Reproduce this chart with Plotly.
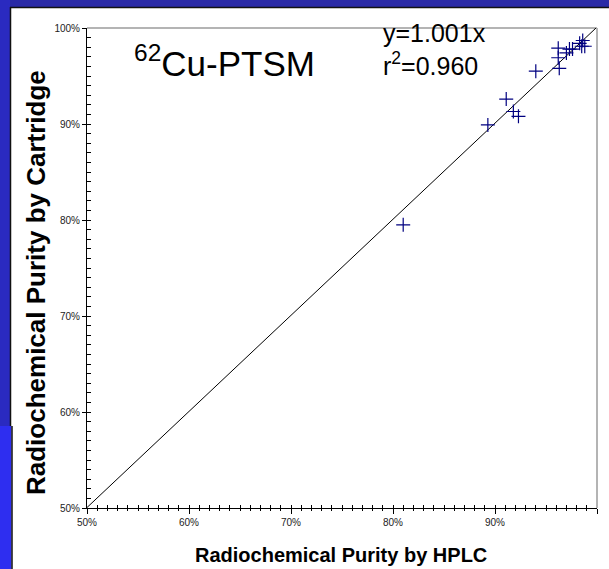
import plotly.graph_objects as go

# ---- data ----
hplc = [0.810, 0.893, 0.911, 0.918, 0.923, 0.940, 0.962, 0.962, 0.963, 0.970, 0.973, 0.976, 0.983, 0.986, 0.985, 0.988]
cartridge = [0.795, 0.899, 0.926, 0.913, 0.908, 0.955, 0.979, 0.969, 0.958, 0.974, 0.978, 0.978, 0.984, 0.987, 0.981, 0.981]
slope = 1.001
fit_x = [0.5, 1.0]
fit_y = [slope * v for v in fit_x]
x_tick_vals = [0.5, 0.6, 0.7, 0.8, 0.9, 1.0]
y_tick_vals = [0.5, 0.6, 0.7, 0.8, 0.9, 1.0]
minor_vals = [round(0.5 + i * 0.01, 2) for i in range(51)]

W, H = 609, 569
L, R, T, B = 87, 597, 28, 508


def px(x):
    return (x - L) / (R - L)


def py(y):
    return (B - y) / (B - T)


fig = go.Figure()
fig.add_trace(go.Scatter(x=fit_x, y=fit_y, mode="lines",
                         line=dict(color="black", width=1), showlegend=False, hoverinfo="skip"))
fig.add_trace(go.Scatter(x=hplc, y=cartridge, mode="markers",
                         marker=dict(symbol="cross-thin", size=10,
                                     line=dict(color="#000080", width=1.2), color="#000080"),
                         showlegend=False))
# invisible trace for the overlay axes (tick crossing)
fig.add_trace(go.Scatter(x=[0.5], y=[0.5], xaxis="x2", yaxis="y2", mode="markers",
                         marker=dict(opacity=0), showlegend=False, hoverinfo="skip"))

tickfont = dict(family="Liberation Sans, Arial", size=10, color="#222")
fig.update_layout(
    width=W, height=H,
    margin=dict(l=L, r=W - R, t=T, b=H - B),
    paper_bgcolor="white", plot_bgcolor="white",
    xaxis=dict(range=[0.5, 1.0], tickvals=x_tick_vals, tickformat=".0%",
               showgrid=False, zeroline=False, showline=True, linecolor="black", linewidth=1,
               ticks="outside", ticklen=5, tickcolor="black",
               minor=dict(tickvals=minor_vals, ticks="outside", ticklen=2, tickcolor="black"),
               tickfont=tickfont),
    yaxis=dict(range=[0.5, 1.0], tickvals=y_tick_vals, tickformat=".0%",
               showgrid=False, zeroline=False, showline=True, linecolor="black", linewidth=1,
               ticks="outside", ticklen=4, tickcolor="black",
               tickfont=tickfont),
    xaxis2=dict(range=[0.5, 1.0], overlaying="x", anchor="y2", side="bottom",
                showgrid=False, zeroline=False, showline=False, showticklabels=False,
                tickvals=x_tick_vals, ticks="inside", ticklen=3, tickcolor="black",
                minor=dict(tickvals=minor_vals, ticks="inside", ticklen=3, tickcolor="black")),
    yaxis2=dict(range=[0.5, 1.0], overlaying="y", anchor="x2", side="left",
                showgrid=False, zeroline=False, showline=False, showticklabels=False,
                tickvals=y_tick_vals, ticks="inside", ticklen=4, tickcolor="black",
                minor=dict(tickvals=minor_vals, ticks="inside", ticklen=4, tickcolor="black")),
)

shapes = []
# slide decoration
shapes.append(dict(type="rect", xref="paper", yref="paper", x0=px(0), x1=px(W), y0=py(0), y1=py(7),
                   fillcolor="#2a2aa6", line=dict(width=0), layer="below"))
shapes.append(dict(type="line", xref="paper", yref="paper", x0=px(10), x1=px(W), y0=py(7.5), y1=py(7.5),
                   line=dict(color="#111", width=1.5), layer="below"))
shapes.append(dict(type="rect", xref="paper", yref="paper", x0=px(0), x1=px(10), y0=py(0), y1=py(426),
                   fillcolor="#2a2ac0", line=dict(width=0), layer="below"))
shapes.append(dict(type="rect", xref="paper", yref="paper", x0=px(0), x1=px(11.5), y0=py(426), y1=py(H),
                   fillcolor="#2e2ef0", line=dict(width=0), layer="below"))
shapes.append(dict(type="line", xref="paper", yref="paper", x0=px(10.5), x1=px(10.5), y0=py(7), y1=py(426),
                   line=dict(color="#111", width=1.5), layer="below"))
shapes.append(dict(type="line", xref="paper", yref="paper", x0=px(12), x1=px(12), y0=py(426), y1=py(H),
                   line=dict(color="#111", width=1.5), layer="below"))
# plot frame top/right in gray
shapes.append(dict(type="line", xref="paper", yref="paper", x0=0, x1=1, y0=1, y1=1,
                   line=dict(color="#b4b4b4", width=2), layer="below"))
shapes.append(dict(type="line", xref="paper", yref="paper", x0=1, x1=1, y0=0, y1=1,
                   line=dict(color="#b4b4b4", width=2), layer="below"))
fig.update_layout(shapes=shapes)

fig.add_annotation(xref="paper", yref="paper", x=px(132), y=py(61), xanchor="left", yanchor="middle",
                   text="<sup>62</sup>Cu-PTSM", showarrow=False,
                   font=dict(family="Liberation Sans, Arial", size=35, color="black"))
fig.add_annotation(xref="paper", yref="paper", x=px(381), y=py(50), xanchor="left", yanchor="middle",
                   text="y=1.001x<br>r<sup>2</sup>=0.960", showarrow=False, align="left",
                   font=dict(family="Liberation Sans, Arial", size=25, color="black"))
# axis titles
fig.add_annotation(xref="paper", yref="paper", x=px(341), y=py(555), xanchor="center", yanchor="middle",
                   text="<b>Radiochemical Purity by HPLC</b>", showarrow=False,
                   font=dict(family="Liberation Sans, Arial", size=20, color="black"))
fig.add_annotation(xref="paper", yref="paper", x=px(36), y=py(283), xanchor="center", yanchor="middle",
                   text="<b>Radiochemical Purity by Cartridge</b>", showarrow=False, textangle=-90,
                   font=dict(family="Liberation Sans, Arial", size=26, color="black"))

fig.write_html("out.html")
